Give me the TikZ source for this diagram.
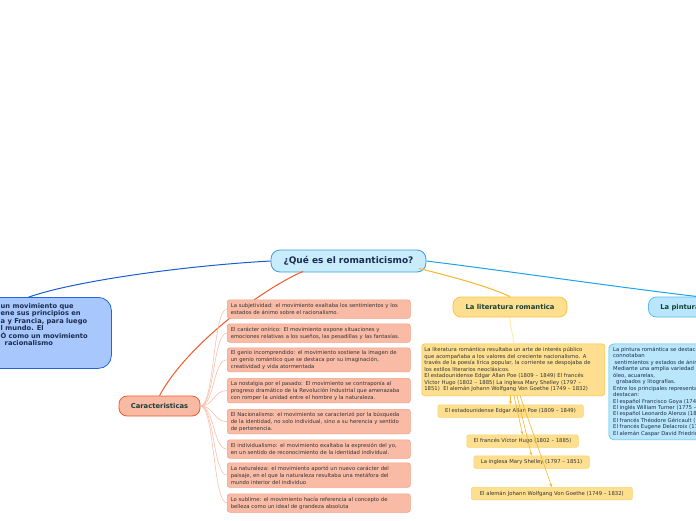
\documentclass[tikz,border=0pt]{standalone}
\usepackage{fontspec}
\setmainfont{DejaVu Sans}
\usetikzlibrary{arrows.meta}
\definecolor{topF}{HTML}{C8ECFB}
\definecolor{topB}{HTML}{3A9DE0}
\definecolor{leftF}{HTML}{A8C8FD}
\definecolor{leftB}{HTML}{1E66DA}
\definecolor{leftL}{HTML}{1A5CCF}
\definecolor{rightL}{HTML}{1DA1E8}
\definecolor{pinF}{HTML}{B9E6FB}
\definecolor{pinB}{HTML}{56BDEE}
\definecolor{carL}{HTML}{F05A2A}
\definecolor{carF}{HTML}{F9BAA4}
\definecolor{carB}{HTML}{EE5B2C}
\definecolor{chF}{HTML}{F9BBA6}
\definecolor{chB}{HTML}{F4A085}
\definecolor{chL}{HTML}{F8C0AC}
\definecolor{litL}{HTML}{F8B52A}
\definecolor{litF}{HTML}{FDDF8F}
\definecolor{litB}{HTML}{F8C444}
\definecolor{litT}{HTML}{FDE6A6}
\definecolor{subB}{HTML}{FBD36C}
\definecolor{titleT}{HTML}{173F3A}
\definecolor{navyT}{HTML}{1B2C4E}
\definecolor{bodyT}{HTML}{333333}
\tikzset{
  topnode/.style={draw=topB, fill=topF, line width=0.8, rounded corners=9, minimum width=155, minimum height=22, inner sep=0,
    font=\bfseries\fontsize{9}{10}\selectfont, text=navyT},
  leftbox/.style={draw=leftB, fill=leftF, line width=0.8, rounded corners=13, anchor=north west, minimum width=180, minimum height=71, inner sep=0},
  lefttext/.style={anchor=north west, align=left, inner sep=0, font=\bfseries\fontsize{6.7}{7.45}\selectfont, text=navyT},
  catnode/.style={line width=0.8, rounded corners=8, minimum height=20, inner sep=0, font=\bfseries\fontsize{6.8}{7.5}\selectfont, text=titleT},
  chbox/.style={draw=chB, fill=chF, line width=0.6, rounded corners=2.5, anchor=north west, minimum width=183, text width=176,
    align=left, inner xsep=3.5, inner ysep=1.5, font=\fontsize{5.3}{7.1}\selectfont, text=bodyT},
  chline/.style={draw=chL, line width=0.6},
  litbox/.style={draw=litB, fill=litF, line width=0.6, rounded corners=3, anchor=north west, minimum width=183, minimum height=52,
    text width=178, align=left, inner xsep=2.5, inner ysep=1.5, font=\fontsize{5.3}{6.5}\selectfont, text=bodyT},
  subbox/.style={draw=subB, fill=litF, line width=0.6, rounded corners=2, anchor=north west, minimum height=12.5, inner xsep=4, inner ysep=0,
    font=\fontsize{5.3}{6}\selectfont, text=bodyT},
  subarrow/.style={draw=litL, line width=0.6, -{Stealth[length=3.5pt,width=3pt]}},
  pinbox/.style={draw=pinB, fill=pinF, line width=0.6, rounded corners=5, anchor=north west, minimum width=160, minimum height=96, inner sep=0},
  pintext/.style={anchor=north west, align=left, inner sep=0, font=\fontsize{5.3}{6.45}\selectfont, text=navyT},
}
\begin{document}
\begin{tikzpicture}[x=1pt,y=-1pt]
\useasboundingbox (0,0) rectangle (696,520);
\clip (0,0) rectangle (696,520);

% central node
\node[topnode] (top) at (348.5,261) {¿Qué es el romanticismo?};

% left box
\node[leftbox] (leftb) at (-69,297) {};
\node[lefttext] (leftt) at (0.5,303.2) {un movimiento que\\ene sus principios en\\a y Francia, para luego\\l mundo. El\\Ó como un movimiento\\\hspace*{4pt}racionalismo};
\coordinate (leftin) at (28,297.4);
\draw[leftL, line width=1] (top.west) .. controls (180,266) and (70,282) .. (leftin);

% painting
\node[catnode, draw=pinB, fill=pinF, anchor=west, text width=100, align=left, inner xsep=12] (pin) at (648,307) {La pintura romántica};
\coordinate (pinin) at (705,297.4);
\draw[rightL, line width=1] (top.east) .. controls (500,270) and (630,289) .. (pinin);
\node[pinbox] (pinb) at (608.5,343.5) {};
\node[pintext] (pint) at (613,347) {La pintura romántica se destacaba por obras que\\connotaban\\\hspace*{1.5pt}sentimientos y estados de ánimo\\Mediante una amplia variedad de técnicas como el\\óleo, acuarelas,\\\hspace*{3pt}grabados y litografías.\\Entre los principales representantes se\\destacan:\\El español Francisco Goya (1746 – 1828)\\El inglés William Turner (1775 – 1851)\\El español Leonardo Alenza (1807 – 1845)\\El francés Théodore Géricault (1791 – 1824)\\El francés Eugene Delacroix (1798 – 1863)\\El alemán Caspar David Friedrich (1774 – 1840)};

% characteristics
\node[catnode, draw=carB, fill=carF, minimum width=81] (car) at (159.5,406) {Caracteristicas};
\coordinate (carin) at (303,271.5);
\draw[carL, line width=1] (carin) .. controls (270,285) and (190,340) .. (car.north);

\node[chbox, minimum height=18.5] (c1) at (227,299.5) {La subjetividad: el movimiento exaltaba los sentimientos y los\\estados de ánimo sobre el racionalismo.};
\node[chbox, minimum height=18.5] (c2) at (227,323.5) {El carácter onírico: El movimiento expone situaciones y\\emociones relativas a los sueños, las pesadillas y las fantasías.};
\node[chbox, minimum height=24] (c3) at (227,347.5) {El genio incomprendido: el movimiento sostiene la imagen de\\un genio romántico que se destaca por su imaginación,\\creatividad y vida atormentada};
\node[chbox, minimum height=24.5] (c4) at (227,378) {La nostalgia por el pasado: El movimiento se contraponía al\\progreso dramático de la Revolución Industrial que amenazaba\\con romper la unidad entre el hombre y la naturaleza.};
\node[chbox, minimum height=24.5] (c5) at (227,409) {El Nacionalismo: el movimiento se caracterizó por la búsqueda\\de la identidad, no solo individual, sino a su herencia y sentido\\de pertenencia.};
\node[chbox, minimum height=18.5] (c6) at (227,439.5) {El individualismo: el movimiento exaltaba la expresión del yo,\\en un sentido de reconocimiento de la identidad individual.};
\node[chbox, minimum height=24.5] (c7) at (227,462.5) {La naturaleza: el movimiento aportó un nuevo carácter del\\paisaje, en el que la naturaleza resultaba una metáfora del\\mundo interior del individuo};
\node[chbox, minimum height=18.5] (c8) at (227,493.5) {Lo sublime: el movimiento hacía referencia al concepto de\\belleza como un ideal de grandeza absoluta};
\foreach \c in {c1,c2,c3,c4,c5,c6,c7,c8}
  \draw[chline] (car.east) .. controls +(14,0) and +(-14,0) .. (\c.west);

% literature
\node[catnode, draw=litB, fill=litF, minimum width=114] (lit) at (510,307) {La literatura romantica};
\coordinate (litout) at (419,268.5);
\draw[litL, line width=1] (litout) .. controls (450,276) and (490,287) .. (lit.north);
\node[litbox] (litd) at (421.5,343.5) {La literatura romántica resultaba un arte de interés público\\que acompañaba a los valores del creciente nacionalismo. A\\través de la poesía lírica popular, la corriente se despojaba de\\los estilos literarios neoclásicos.\\El estadounidense Edgar Allan Poe (1809 – 1849) El francés\\Víctor Hugo (1802 – 1885) La inglesa Mary Shelley (1797 –\\1851)\ \ El alemán Johann Wolfgang Von Goethe (1749 – 1832)};
\draw[litT, line width=0.8] (lit.south) .. controls (510,330) and (514,335) .. (litd.north);

\node[subbox, minimum width=145.5] (s1) at (437.5,404.5) {El estadounidense Edgar Allan Poe (1809 – 1849)};
\node[subbox, minimum width=111.5] (s2) at (466.5,434.5) {El francés Víctor Hugo (1802 – 1885)};
\node[subbox, minimum width=115.5] (s3) at (473.5,455.5) {La inglesa Mary Shelley (1797 – 1851)};
\node[subbox, minimum width=161] (s4) at (471,487) {El alemán Johann Wolfgang Von Goethe (1749 – 1832)};

\coordinate (a1) at (510.5,395.5);
\coordinate (a2) at (514,395.5);
\coordinate (a3) at (517,395.5);
\coordinate (a4) at (520,395.5);
\draw[subarrow] (a1) -- (s1.north);
\draw[subarrow] (a2) -- (s2.north);
\draw[subarrow] (a3) -- (s3.north);
\draw[subarrow] (a4) -- (s4.north);
\end{tikzpicture}
\end{document}
